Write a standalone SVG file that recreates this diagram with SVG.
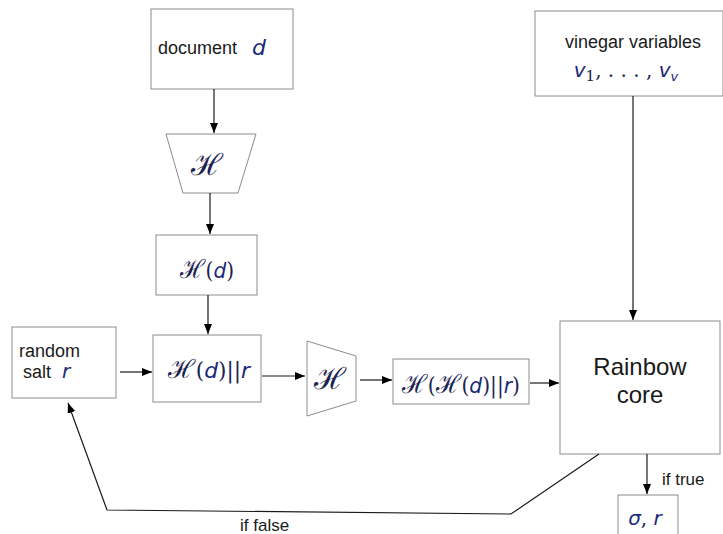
<svg xmlns="http://www.w3.org/2000/svg" width="723" height="534" viewBox="0 0 723 534">
<style>
.box{fill:#fff;stroke:#8c8c8c;stroke-width:1}
.ln{fill:none;stroke:#1a1a1a;stroke-width:1.2}
.t{font-family:"Liberation Sans",Arial,sans-serif;fill:#1a1a1a}
.m{font-family:"DejaVu Serif","Liberation Serif",serif;fill:#1c2350}
.mi{font-family:"DejaVu Sans","Liberation Sans",sans-serif;font-style:italic;fill:#1c2a7a}
.H{font-size:26px}
</style>
<defs>
<marker id="ah" markerUnits="userSpaceOnUse" markerWidth="11" markerHeight="9" refX="10" refY="4" orient="auto">
<path d="M0,0 L10,4 L0,8 z" fill="#000"/>
</marker>
</defs>
<rect width="723" height="534" fill="#fff"/>

<g id="document">
<rect class="box" x="151" y="9" width="142" height="80"/>
<text class="t" x="158" y="54" font-size="18">document</text>
<text class="mi" x="252" y="55" font-size="22">d</text>
</g>

<g id="hash1">
<polygon class="box" points="166,134 256,134 238,193 183,193"/>
<text class="m" x="207" y="175" font-size="30" text-anchor="middle">ℋ</text>
</g>

<g id="hd">
<rect class="box" x="156" y="235" width="101" height="60"/>
<text class="m" x="180" y="278" font-size="22" textLength="54" lengthAdjust="spacingAndGlyphs"><tspan class="H">ℋ</tspan>(<tspan class="mi">d</tspan>)</text>
</g>

<g id="salt">
<rect class="box" x="12" y="327" width="104" height="71"/>
<text class="t" x="19" y="357" font-size="18">random</text>
<text class="t" x="23" y="378" font-size="18">salt</text>
<text class="mi" x="62" y="378" font-size="20">r</text>
</g>

<g id="hdr">
<rect class="box" x="153" y="335" width="108" height="67"/>
<text class="m" x="168" y="378" font-size="22" textLength="82" lengthAdjust="spacingAndGlyphs"><tspan class="H">ℋ</tspan>(<tspan class="mi">d</tspan>)||<tspan class="mi">r</tspan></text>
</g>

<g id="hash2">
<polygon class="box" points="307,341 356,356 356,401 307,416"/>
<text class="m" x="330" y="389" font-size="30" text-anchor="middle">ℋ</text>
</g>

<g id="hhdr">
<rect class="box" x="393" y="359" width="136" height="45"/>
<text class="m" x="402" y="393" font-size="22" textLength="118" lengthAdjust="spacingAndGlyphs"><tspan class="H">ℋ</tspan>(<tspan class="H">ℋ</tspan>(<tspan class="mi">d</tspan>)||<tspan class="mi">r</tspan>)</text>
</g>

<g id="vinegar">
<rect class="box" x="535" y="11" width="188" height="85"/>
<text class="t" x="633" y="48" font-size="18" text-anchor="middle">vinegar variables</text>
<text class="m" x="626" y="77" font-size="20" text-anchor="middle"><tspan class="mi">v</tspan><tspan font-size="15" dy="4">1</tspan><tspan dy="-4">, . . . , </tspan><tspan class="mi">v</tspan><tspan class="mi" font-size="13" dy="4">v</tspan></text>
</g>

<g id="rainbow">
<rect class="box" x="560" y="321" width="160" height="133"/>
<text class="t" x="640" y="375" font-size="24" text-anchor="middle">Rainbow</text>
<text class="t" x="640" y="403" font-size="24" text-anchor="middle">core</text>
</g>

<g id="sigma">
<rect class="box" x="618" y="495" width="60" height="50"/>
<text class="mi" x="645" y="525" font-size="20" text-anchor="middle">σ<tspan class="m" font-style="normal">, </tspan>r</text>
</g>

<g id="connectors">
<line class="ln" x1="214" y1="89" x2="214" y2="133" marker-end="url(#ah)"/>
<line class="ln" x1="210" y1="193" x2="210" y2="234" marker-end="url(#ah)"/>
<line class="ln" x1="208" y1="295" x2="208" y2="334" marker-end="url(#ah)"/>
<line class="ln" x1="120" y1="372" x2="152" y2="372" marker-end="url(#ah)"/>
<line class="ln" x1="262" y1="376" x2="305" y2="376" marker-end="url(#ah)"/>
<line class="ln" x1="360" y1="380" x2="392" y2="380" marker-end="url(#ah)"/>
<line class="ln" x1="530" y1="383" x2="559" y2="383" marker-end="url(#ah)"/>
<line class="ln" x1="633" y1="96" x2="633" y2="320" marker-end="url(#ah)"/>
<line class="ln" x1="647" y1="454" x2="647" y2="494" marker-end="url(#ah)"/>
<polyline class="ln" points="599,454 511,514 107,510 68,403" marker-end="url(#ah)"/>
<text class="t" x="662" y="485" font-size="17">if true</text>
<text class="t" x="240" y="531" font-size="17">if false</text>
</g>
</svg>
